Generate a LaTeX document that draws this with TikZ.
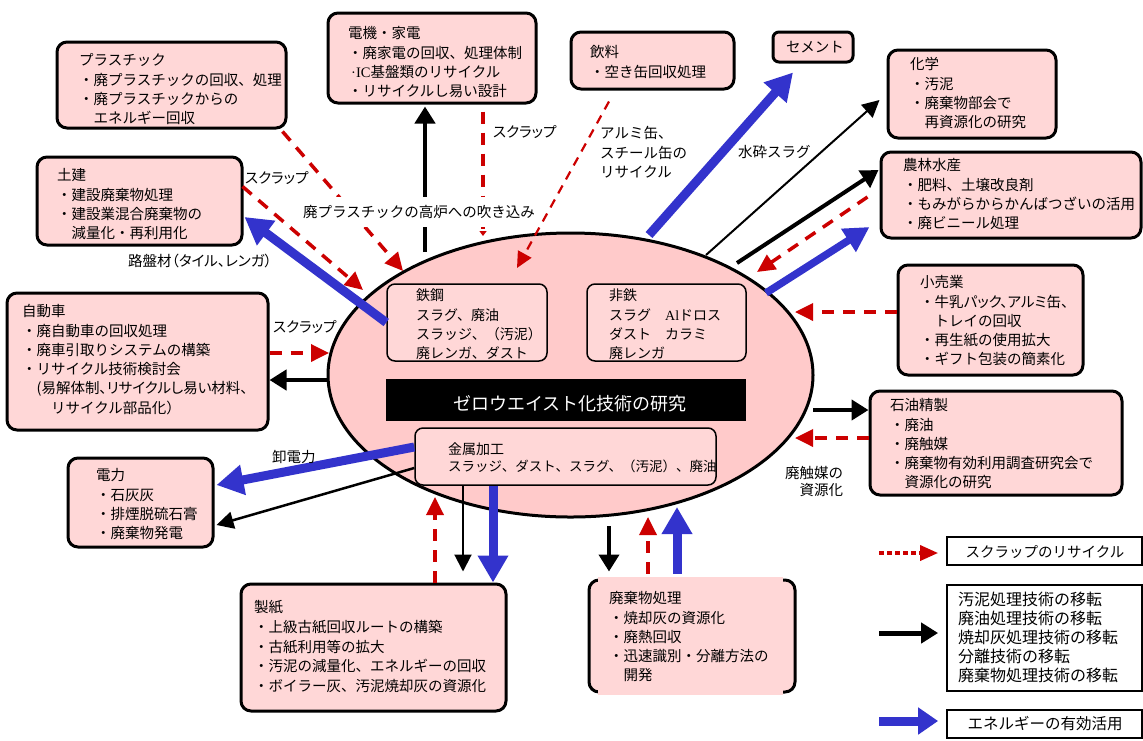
\documentclass[tikz,border=0pt]{standalone}
\usepackage{fontspec}
\setmainfont{Noto Sans CJK JP}
\newfontfamily\paltf{Noto Sans CJK JP}[RawFeature=+palt]
\newfontfamily\lserif{Liberation Serif}
\usetikzlibrary{arrows.meta,shapes.geometric,fit,calc}
\definecolor{boxpink}{HTML}{FFD7D7}
\definecolor{ellpink}{HTML}{FFCACA}
\definecolor{myred}{HTML}{CC0000}
\definecolor{myblue}{HTML}{3333CC}
\newcommand\tstrut{\rule{0pt}{13pt}}
\begin{document}
\begin{tikzpicture}[x=1pt,y=-1pt,
  mainbox/.style={draw=black, line width=3pt, fill=boxpink, rounded corners=10pt, inner sep=0pt},
  innerbox/.style={draw=black, line width=1.5pt, fill=boxpink, rounded corners=8pt, inner sep=0pt},
  legbox/.style={draw=black, line width=1.8pt, fill=white, inner sep=0pt},
  txt/.style={anchor=north west, inner sep=0pt, align=left, font=\fontsize{14.5}{19.3}\selectfont},
  itxt/.style={anchor=north west, inner sep=0pt, align=left, font=\fontsize{14}{19.3}\selectfont},
  lab/.style={anchor=base west, inner sep=0pt, font=\fontsize{14.5}{19.3}\selectfont},
  redd/.style={draw=myred, line width=3.5pt, dash pattern=on 12pt off 9pt, -{Triangle[length=18pt,width=17pt]}},
  redt/.style={draw=myred, line width=2.2pt, dash pattern=on 9pt off 7pt, -{Triangle[length=16pt,width=15pt]}},
  blk/.style={draw=black, line width=4.5pt, -{Triangle[length=17pt,width=20pt]}},
  blkt/.style={draw=black, line width=2pt, -{Triangle[length=17pt,width=17pt]}},
  blu/.style={draw=myblue, line width=9pt, -{Triangle[length=27pt,width=29pt]}}
]
\fill[white] (0,0) rectangle (1143,740);
\useasboundingbox (0,0) rectangle (1143,740);

% ---------- outer boxes ----------
\node[mainbox, fit={(57,42)(286,128)}] (plas) {};
\node[mainbox, fit={(328,13)(536,103)}] (den) {};
\node[mainbox, fit={(571,32)(734,89)}] (drink) {};
\node[mainbox, rounded corners=6pt, fit={(773,32)(853,62)}] (cement) {};
\node[mainbox, fit={(888,50)(1056,138)}] (chem) {};
\node[mainbox, fit={(881,152)(1141,238)}] (agri) {};
\node[mainbox, fit={(37,157)(242,245)}] (doken) {};
\node[mainbox, fit={(7,293)(268,430)}] (car) {};
\node[mainbox, fit={(898,265)(1083,375)}] (retail) {};
\node[mainbox, fit={(870,391)(1122,495)}] (oil) {};
\node[mainbox, fit={(68,458)(213,547)}] (power) {};
\node[mainbox, fit={(241,584)(506,711)}] (paper) {};
\node[mainbox, fit={(589,580)(795,692)}] (waste) {};
\fill[boxpink] (598,577) rectangle (783,584);
\fill[boxpink] (598,689) rectangle (783,695);

% ---------- central ellipse ----------
\node[ellipse, draw=black, line width=3pt, fill=ellpink, minimum width=485pt, minimum height=284pt, inner sep=0pt] (ell) at (570.5,375) {};
\node[innerbox, fit={(387,284)(547,361)}] (tekko) {};
\node[innerbox, fit={(587,284)(746,361)}] (hitetsu) {};
\node[fill=black, inner sep=0pt, fit={(386,379)(746,421)}] (bar) {};
\node[innerbox, fit={(415,428)(716,485)}] (kinzoku) {};

% ---------- legend boxes ----------
\node[legbox, fit={(947,537)(1142,565)}] (leg1) {};
\node[legbox, fit={(947,585)(1142,691)}] (leg2) {};
\node[legbox, fit={(947,710)(1142,738)}] (leg3) {};

% ---------- texts ----------
\node[txt] (plasT) at (79,52.5) {\tstrut プラスチック\\・廃プラスチックの回収、処理\\・廃プラスチックからの\\　エネルギー回収};
\node[txt] (denT) at (348,25.5) {\tstrut 電機・家電\\・廃家電の回収、処理体制\\\hspace*{3pt}{\lserif ·IC}基盤類のリサイクル\\・リサイクルし易い設計};
\node[txt] (drinkT) at (590,44.5) {\tstrut 飲料\\・空き缶回収処理};
\node[lab, anchor=base] (cementT) at (815,52.5) {セメント};
\node[txt] (chemT) at (910,56.5) {\tstrut 化学\\・汚泥\\・廃棄物部会で\\　再資源化の研究};
\node[txt] (agriT) at (903,157.5) {\tstrut 農林水産\\・肥料、土壌改良剤\\・もみがらからかんばつざいの活用\\・廃ビニール処理};
\node[txt] (dokenT) at (57,167.5) {\tstrut 土建\\・建設廃棄物処理\\・建設業混合廃棄物の\\　減量化・再利用化};
\node[txt] (carT) at (22,303.5) {\tstrut 自動車\\・廃自動車の回収処理\\・廃車引取りシステムの構築\\・リサイクル技術検討会\\　{\paltf (易解体制、リサイクルし易い材料、}\\　　リサイクル部品化）};
\node[txt] (retailT) at (920,274.5) {\tstrut 小売業\\・{\paltf 牛乳パック、アルミ缶、}\\　トレイの回収\\・再生紙の使用拡大\\・ギフト包装の簡素化};
\node[txt] (oilT) at (890,397.5) {\tstrut 石油精製\\・廃油\\・廃触媒\\・廃棄物有効利用調査研究会で\\　資源化の研究};
\node[txt] (powerT) at (96,467.5) {\tstrut 電力\\・石灰灰\\・排煙脱硫石膏\\・廃棄物発電};
\node[txt, font=\fontsize{14.5}{19.7}\selectfont] (paperT) at (254,599.5) {\tstrut 製紙\\・上級古紙回収ルートの構築\\・古紙利用等の拡大\\・汚泥の減量化、エネルギーの回収\\・ボイラー灰、汚泥焼却灰の資源化};
\node[txt] (wasteT) at (609,590.5) {\tstrut 廃棄物処理\\・焼却灰の資源化\\・廃熱回収\\・迅速識別・分離方法の\\　開発};

\node[itxt] (tekkoT) at (416,287.5) {\tstrut 鉄鋼\\スラグ、廃油\\スラッジ、（汚泥）\\廃レンガ、ダスト};
\node[itxt] (hitetsuT) at (609,287.5) {\tstrut 非鉄\\スラグ　{\lserif Al}ドロス\\ダスト　カラミ\\廃レンガ};
\node[itxt, font=\fontsize{14}{16.5}\selectfont] (kinzokuT) at (448,441.5) {\tstrut 金属加工\\{\fontsize{13.5}{16.5}\selectfont スラッジ、ダスト、スラグ、（汚泥）、廃油}};
\node[anchor=base, inner sep=0pt, text=white, font=\fontsize{18}{20}\selectfont] (barT) at (570,410) {ゼロウエイスト化技術の研究};

\node[lab, anchor=base, font=\fontsize{14.5}{19.3}\selectfont] (leg1T) at (1045,557.5) {スクラップのリサイクル};
\node[txt, font=\fontsize{16}{19}\selectfont] (leg2T) at (958,591) {\rule{0pt}{14pt}汚泥処理技術の移転\\廃油処理技術の移転\\焼却灰処理技術の移転\\分離技術の移転\\廃棄物処理技術の移転};
\node[lab, anchor=base, font=\fontsize{15.5}{19}\selectfont] (leg3T) at (1045,729) {エネルギーの有効活用};

% ---------- connectors ----------
% red dashed: scrap recycling
\draw[redd] ($(plas.south east)+(-5,2)$) -- ($(ell.center)+(-167.5,-104)$);
\draw[redd] ($(doken.north east)+(-1,31)$) -- ($(ell.center)+(-207.5,-85)$);
\draw[redd, -{Triangle[length=5pt,width=7pt]}] ($(den.south)+(51,7)$) -- ($(ell.center)+(-87.5,-139)$);
\draw[redt] ($(drink.south)+(-43.5,11)$) -- ($(ell.center)+(-53.5,-107)$);
\draw[redd] ($(agri.west)+(-12,2)$) -- ($(ell.center)+(186.5,-103)$);
\draw[redd] ($(retail.west)+(0,-8)$) -- ($(ell.center)+(224.5,-63)$);
\draw[redd] ($(oil.west)+(0,-5)$) -- ($(ell.center)+(224.5,63)$);
\draw[redd] ($(car.east)+(0,-8.5)$) -- ($(ell.center)+(-241.5,-22)$);
\draw[redd] ($(paper.north)+(61.5,0)$) -- ($(ell.center)+(-135.5,122)$);
\draw[redd] ($(waste.north)+(-44,-5)$) -- ($(ell.center)+(77.5,142)$);

% black: technology transfer
\draw[blk] ($(ell.center)+(-145.5,-123)$) -- ($(den.south)+(-7,2)$);
\draw[blkt] ($(ell.center)+(135.5,-120)$) -- ($(chem.west)+(-7,6)$);
\draw[blk, line width=4pt] ($(ell.center)+(166.5,-112)$) -- ($(agri.west)+(-1,-25)$);
\draw[blk] ($(ell.center)+(242.5,35)$) -- ($(oil.west)+(0,-33)$);
\draw[blk] ($(ell.center)+(-242.5,5)$) -- ($(car.east)+(0,18.5)$);
\draw[blkt, line width=2.5pt] ($(kinzoku.west)+(0,11.5)$) -- ($(power.east)+(2,22.5)$);
\draw[blkt] ($(kinzoku.south)+(-102.5,0)$) -- ($(paper.north)+(89.5,-11)$);
\draw[blk, line width=4pt] ($(ell.center)+(38.5,151)$) -- ($(waste.north)+(-83,-7)$);

% blue: energy
\draw[blu] ($(ell.center)+(78.5,-140)$) -- ($(cement.south)+(-20,9)$);
\draw[blu, line width=7.5pt, -{Triangle[length=25pt,width=26pt]}] ($(ell.center)+(195.5,-82)$) -- ($(agri.west)+(-10,32)$);
\draw[blu] (tekko.west) -- ($(doken.east)+(1,16)$);
\draw[blu] ($(kinzoku.west)+(0,-9.5)$) -- ($(power.east)+(2,-17.5)$);
\draw[blu] ($(kinzoku.south)+(-72.5,0)$) -- ($(paper.north)+(119.5,0)$);
\draw[blu] ($(waste.north)+(-15,-5)$) -- ($(ell.center)+(106.5,132)$);

% legend arrows
\draw[draw=myred, line width=3.5pt, dash pattern=on 5pt off 3pt, -{Triangle[length=18pt,width=15pt]}] ($(leg1.west)+(-67,2)$) -- ($(leg1.west)+(-8,2)$);
\draw[blk, line width=5pt] ($(leg2.west)+(-67,-5)$) -- ($(leg2.west)+(-8,-5)$);
\draw[blu, -{Triangle[length=20pt,width=26pt]}] ($(leg3.west)+(-67,-3)$) -- ($(leg3.west)+(-8,-3)$);

% ---------- labels ----------
\node[lab] (scr1) at (245,183.5) {\paltf スクラップ};
\node[lab, anchor=base, fill=white, inner xsep=1pt, inner ysep=8pt] (blow) at (419,217.5) {廃プラスチックの高炉への吹き込み};
\node[lab] (scr2) at (493,137.5) {\paltf スクラップ};
\node[txt] (alumi) at (600,125.5) {\tstrut アルミ缶、\\スチール缶の\\リサイクル};
\node[lab] (suisai) at (738,157.5) {水砕スラグ};
\node[lab] (roban) at (128,266.5) {\paltf 路盤材（タイル、レンガ）};
\node[lab] (scr3) at (273,332.5) {\paltf スクラップ};
\node[lab] (orosi) at (272,462.5) {卸電力};
\node[txt, font=\fontsize{14.5}{17}\selectfont] (haisyoku) at (785,465.5) {\tstrut 廃触媒の\\　資源化};
\end{tikzpicture}
\end{document}
